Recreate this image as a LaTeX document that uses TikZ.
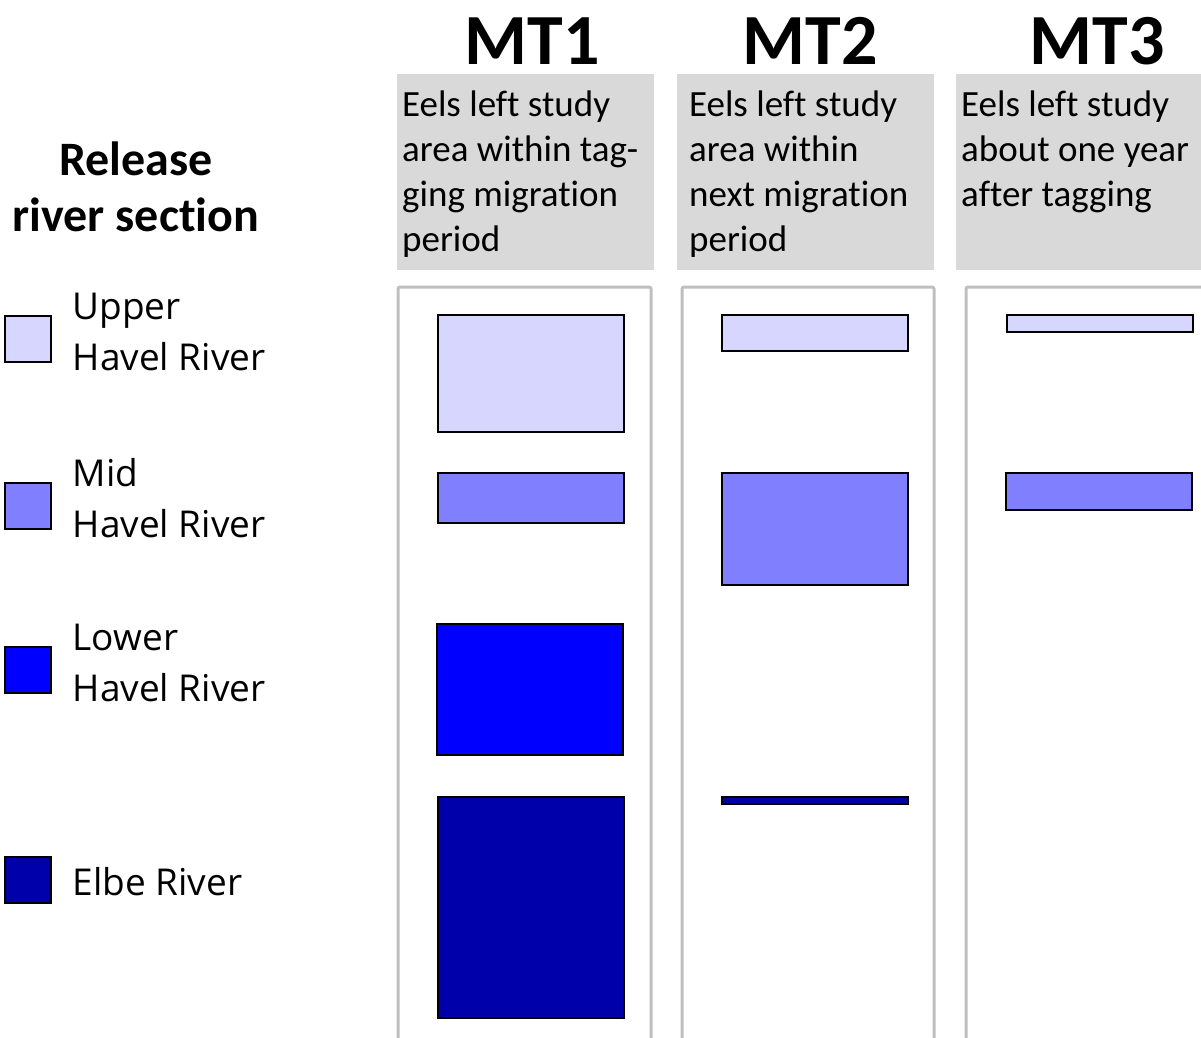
\documentclass[tikz,border=0pt]{standalone}
\usepackage{fontspec}
\setmainfont{Carlito}[Ligatures={NoCommon}]
\newfontfamily\legendfont{Open Sans}
\usetikzlibrary{positioning}

\definecolor{upperhavel}{HTML}{D6D6FF}
\definecolor{midhavel}{HTML}{8080FF}
\definecolor{lowerhavel}{HTML}{0000FF}
\definecolor{elberiver}{HTML}{0000AA}
\definecolor{framegray}{HTML}{BFBFBF}
\definecolor{headgray}{HTML}{D9D9D9}

\tikzset{
  mtitle/.style={font=\fontsize{72}{80}\selectfont\bfseries, anchor=base, inner sep=0pt},
  headbox/.style={rectangle, fill=headgray, anchor=north west, minimum width=257pt, minimum height=196pt, inner sep=0pt},
  headtext/.style={font=\fontsize{37}{45}\selectfont, align=left, anchor=north west, inner sep=0pt},
  colframe/.style={draw=framegray, line width=3pt, rounded corners=2pt},
  bar/.style={rectangle, draw=black, line width=2.2pt, anchor=north west, minimum width=186pt, inner sep=0pt},
  swatch/.style={rectangle, draw=black, line width=1.5pt, anchor=north west, minimum width=46pt, minimum height=46pt, inner sep=0pt},
  legendtext/.style={font=\legendfont\fontsize{37}{51}\selectfont, align=left, inner sep=0pt},
}

\begin{document}
\begin{tikzpicture}[x=1pt, y=-1pt]
  \useasboundingbox (0,0) rectangle (1201,1037);
  % Titles
  \node (MT1) [mtitle] at (532,64) {MT1};
  \node (MT2) [mtitle] at (810,64) {MT2};
  \node (MT3) [mtitle] at (1097,64) {MT3};
  % Header boxes
  \node (H1) [headbox] at (397,74) {};
  \node (H2) [headbox] at (677,74) {};
  \node (H3) [headbox, minimum width=250pt] at (956,74) {};
  \node (H1text) [headtext] at (402,91) {Eels left study\\area within tag-\\ging migration\\period};
  \node (H2text) [headtext] at (689,91) {Eels left study\\area within\\next migration\\period};
  \node (H3text) [headtext] at (961,91) {Eels left study\\about one year\\after tagging};
  % Column frames
  \draw[colframe] (398,1040) -- (398,287) -- (651,287) -- (651,1040);
  \draw[colframe] (682,1040) -- (682,287) -- (934,287) -- (934,1040);
  \draw[colframe] (966,1040) -- (966,287) -- (1210,287);
  % Legend
  \node (legtitle) [font=\fontsize{48}{56}\selectfont\bfseries, align=center, anchor=north, inner sep=0pt] at (136,142) {Release\\river section};
  \node (Upper) [swatch, fill=upperhavel] at (4,315) {};
  \node (Mid) [swatch, fill=midhavel] at (4,482) {};
  \node (Lower) [swatch, fill=lowerhavel] at (4,646) {};
  \node (Elbe) [swatch, fill=elberiver] at (4,856) {};
  \node (UpperT) [legendtext, right=21pt of Upper, yshift=7pt] {Upper\\Havel River};
  \node (MidT) [legendtext, right=21pt of Mid, yshift=8pt] {Mid\\Havel River};
  \node (LowerT) [legendtext, right=21pt of Lower, yshift=7pt] {Lower\\Havel River};
  \node (ElbeT) [legendtext, right=21pt of Elbe, yshift=-2pt] {Elbe River};
  % Bars MT1
  \node (U1) [bar, fill=upperhavel, minimum height=117pt] at (437,313.5) {};
  \node (M1) [bar, fill=midhavel, minimum height=50pt] at (437,471.5) {};
  \node (L1) [bar, fill=lowerhavel, minimum height=131pt] at (436,622.5) {};
  \node (E1) [bar, fill=elberiver, minimum height=221pt] at (437,795.5) {};
  % Bars MT2
  \node (U2) [bar, fill=upperhavel, minimum height=36pt] at (721,313.5) {};
  \node (M2) [bar, fill=midhavel, minimum height=112pt] at (721,471.5) {};
  \node (E2) [bar, fill=elberiver, minimum height=7pt] at (721,795.5) {};
  % Bars MT3
  \node (U3) [bar, fill=upperhavel, minimum height=17pt] at (1006,313.5) {};
  \node (M3) [bar, fill=midhavel, minimum height=37pt] at (1005,471.5) {};
\end{tikzpicture}
\end{document}
